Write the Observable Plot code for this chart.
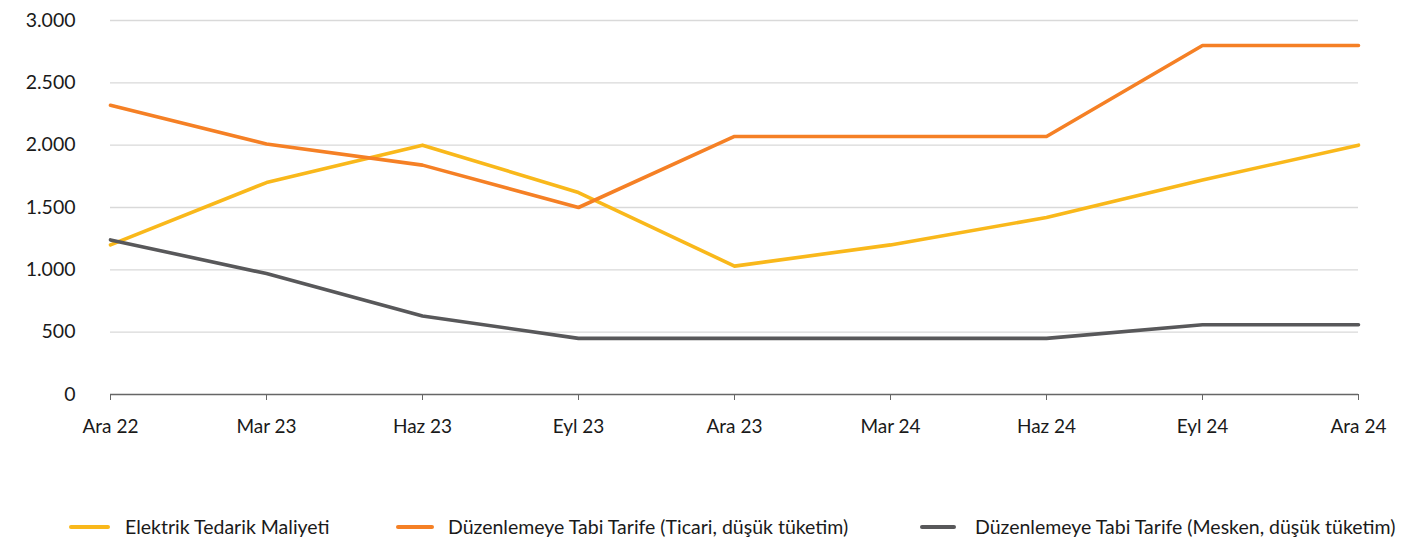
<!DOCTYPE html>
<html><head><meta charset="utf-8">
<script src="https://cdn.jsdelivr.net/npm/d3@7"></script>
<script src="https://cdn.jsdelivr.net/npm/@observablehq/plot@0.6"></script>
<style>
body{margin:0;background:#fff;font-family:Lato,"Open Sans",sans-serif;}
#wrap{position:relative;width:1424px;height:541px;}
.leg{position:absolute;top:515px;height:22px;display:flex;align-items:center;font-size:19.5px;color:#1a1a1a;white-space:nowrap;}
.sw{position:absolute;top:525px;height:4px;border-radius:2px;}
</style></head>
<body><div id="wrap"></div>
<script>
const months = ["Ara 22","Mar 23","Haz 23","Eyl 23","Ara 23","Mar 24","Haz 24","Eyl 24","Ara 24"];
const seriesNames = ["Elektrik Tedarik Maliyeti","Düzenlemeye Tabi Tarife (Ticari, düşük tüketim)","Düzenlemeye Tabi Tarife (Mesken, düşük tüketim)"];
const tedarik = [1200,1700,2000,1620,1030,1200,1420,1720,2000];
const ticari  = [2320,2010,1840,1500,2070,2070,2070,2800,2800];
const mesken  = [1240,970,630,450,450,450,450,560,560];
const colors = ["#F9B81B","#F58025","#58585A"];
const yTicks = [0,500,1000,1500,2000,2500,3000];

const data = [];
[tedarik, ticari, mesken].forEach((arr, si) => arr.forEach((v, i) => data.push({s: seriesNames[si], m: months[i], v})));
const fmt = d => d3.format(",")(d).replace(/,/g, ".");

const chart = Plot.plot({
  width: 1424, height: 450,
  marginLeft: 110, marginRight: 66, marginTop: 20, marginBottom: 56,
  style: {fontFamily: "Lato, 'Open Sans', sans-serif", fontSize: "19px", color: "#1a1a1a", background: "#fff"},
  x: {type: "point", domain: months, padding: 0},
  y: {domain: [0, 3000]},
  color: {domain: seriesNames, range: colors},
  marks: [
    Plot.gridY(yTicks.filter(d => d > 0), {stroke: "#d9d9d9", strokeOpacity: 1, strokeWidth: 1.3}),
    Plot.axisY(yTicks, {tickSize: 0, tickPadding: 35, tickFormat: fmt, label: null, fontSize: 19.5}),
    Plot.ruleY([0], {stroke: "#666", strokeWidth: 1.5}),
    Plot.axisX({tickSize: 6, tickPadding: 19, label: null, stroke: "#666", fontSize: 19}),
    Plot.lineY(data, {x: "m", y: "v", z: "s", stroke: "s", strokeWidth: 3.6, strokeLinejoin: "round", strokeLinecap: "round"})
  ]
});
const wrap = document.getElementById("wrap");
wrap.appendChild(chart);
chart.style.position = "absolute"; chart.style.left = "0"; chart.style.top = "0";

const legend = [
  {sx: 69, sw: 41, tx: 125},
  {sx: 396, sw: 38, tx: 448},
  {sx: 920, sw: 36, tx: 975}
];
legend.forEach((l, i) => {
  const s = document.createElement("div");
  s.className = "sw"; s.style.left = l.sx + "px"; s.style.width = l.sw + "px"; s.style.background = colors[i];
  wrap.appendChild(s);
  const t = document.createElement("div");
  t.className = "leg"; t.style.left = l.tx + "px"; t.textContent = seriesNames[i];
  wrap.appendChild(t);
});
</script></body></html>
